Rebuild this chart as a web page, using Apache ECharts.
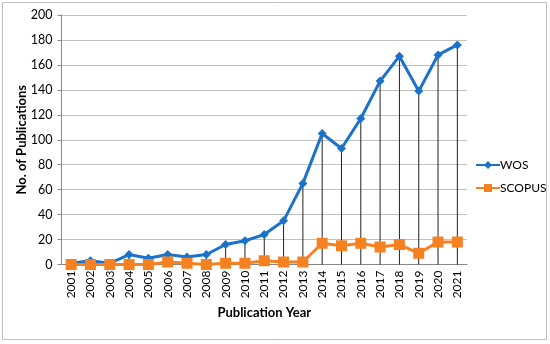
<!DOCTYPE html>
<html><head><meta charset="utf-8">
<script src="https://cdn.jsdelivr.net/npm/echarts@6/dist/echarts.min.js"></script>
<style>html,body{margin:0;padding:0;background:#fff}#c{width:550px;height:344px}</style>
</head><body><div id="c"></div>
<script>
const years = ['2001','2002','2003','2004','2005','2006','2007','2008','2009','2010','2011','2012','2013','2014','2015','2016','2017','2018','2019','2020','2021'];
const wos = [1,3,1,8,5,8,6,8,16,19,24,35,65,105,93,117,147,167,139,168,176];
const scopus = [0,0,0,0,0,2,1,0,1,1,3,2,2,17,15,17,14,16,9,18,18];
const yTicks = [0,20,40,60,80,100,120,140,160,180,200];

const dropLines = years.map((y,i)=>Math.max(wos[i], scopus[i]));
const font = 'Lato, sans-serif';
const chart = echarts.init(document.getElementById('c'), null, {renderer:'canvas'});
chart.setOption({
  animation:false,
  backgroundColor:'#fff',
  graphic:[{type:'rect', shape:{x:2.5,y:2.5,width:544,height:337}, style:{fill:'none', stroke:'#c0c0c0', lineWidth:1}, z:-1}],
  grid:{left:61.5, right:83, top:15, bottom:79.5},
  legend:{
    orient:'vertical', left:470, top:154, itemWidth:24, itemHeight:10, itemGap:11,
    data:['WOS','SCOPUS'],
    textStyle:{fontFamily:font, fontSize:12, color:'#000', padding:[0,0,0,-5]}
  },
  xAxis:{
    type:'category', data:years, boundaryGap:true,
    name:'Publication Year', nameLocation:'middle', nameGap:42,
    nameTextStyle:{fontFamily:font, fontWeight:'bold', fontSize:13, color:'#000'},
    axisLine:{lineStyle:{color:'#888', width:1}},
    axisTick:{show:false},
    axisLabel:{rotate:90, fontFamily:font, fontSize:12, color:'#000', margin:6}
  },
  yAxis:{
    type:'value', min:yTicks[0], max:yTicks[yTicks.length-1], interval:20,
    name:'No. of Publications', nameLocation:'middle', nameGap:33, nameMoveOverlap:false,
    nameTextStyle:{fontFamily:font, fontWeight:'bold', fontSize:13, color:'#000'},
    axisLine:{show:true, lineStyle:{color:'#888', width:1}},
    axisTick:{show:true, length:4, lineStyle:{color:'#888'}},
    axisLabel:{fontFamily:font, fontSize:12.5, color:'#000', margin:9},
    splitLine:{lineStyle:{color:'#c0c0c0', width:1}}
  },
  series:[
    {name:'drop', type:'bar', data:dropLines, barWidth:1, itemStyle:{color:'#222'}, z:1, silent:true, legendHoverLink:false},
    {name:'WOS', type:'line', data:wos, symbol:'diamond', symbolSize:9, z:3,
      lineStyle:{color:'#1b72c9', width:3}, itemStyle:{color:'#1b72c9'}},
    {name:'SCOPUS', type:'line', data:scopus, symbol:'rect', symbolSize:11, z:4,
      lineStyle:{color:'#f68121', width:3}, itemStyle:{color:'#f68121'}}
  ]
});
</script></body></html>
